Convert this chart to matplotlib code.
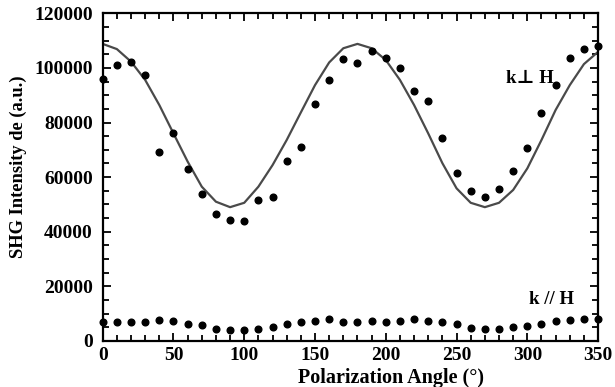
import matplotlib
matplotlib.use("Agg")
import matplotlib.pyplot as plt
from matplotlib.ticker import MultipleLocator

plt.rcParams['font.family'] = ['Liberation Serif', 'DejaVu Serif']
plt.rcParams['font.weight'] = 'bold'

# Polarization angle (degrees)
angles = list(range(0, 360, 10))

# Measured SHG intensity, k perpendicular to H
perp_measured = [96000, 101100, 102000, 97400, 69100, 76200, 63100, 53700, 46400, 44400,
                 43800, 51800, 52900, 65900, 71100, 86900, 95600, 103400, 101900, 106200,
                 103500, 100000, 91700, 88000, 74200, 61400, 54900, 52800, 55700, 62200,
                 70700, 83400, 93600, 103500, 107000, 107900]

# Fitted curve, k perpendicular to H
perp_fit = [108800, 106900, 102300, 95600, 86400, 76000, 65700, 56500, 51000, 49000,
            50600, 56500, 64400, 73600, 83700, 93700, 102000, 107200, 108800, 107200,
            102900, 95600, 86400, 76000, 65100, 55900, 50600, 49000, 50600, 55300,
            63200, 73600, 84600, 93700, 101400, 105900]

# Measured SHG intensity, k parallel to H
para_measured = [6800, 7100, 7100, 6800, 7700, 7400, 6300, 5700, 4400, 3900,
                 3900, 4400, 5200, 6200, 6800, 7400, 7900, 7100, 7100, 7400,
                 6800, 7400, 8100, 7300, 6800, 6100, 4800, 4300, 4300, 5000,
                 5600, 6200, 7400, 7700, 8200, 7900]

fig = plt.figure(figsize=(6.15, 3.87), dpi=100)
ax = fig.add_axes([0.167, 0.119, 0.8055, 0.8466])

ax.plot(angles, perp_fit, color='#4a4a4a', lw=1.6, zorder=2)
ax.plot(angles, perp_measured, 'o', color='black', ms=4.8, clip_on=False, zorder=3)
ax.plot(angles, para_measured, 'o', color='black', ms=4.8, clip_on=False, zorder=3)

ax.set_xlim(0, 350)
ax.set_ylim(0, 120000)

ax.xaxis.set_major_locator(MultipleLocator(50))
ax.xaxis.set_minor_locator(MultipleLocator(10))
ax.yaxis.set_major_locator(MultipleLocator(20000))
ax.yaxis.set_minor_locator(MultipleLocator(5000))

ax.tick_params(which='both', direction='in', top=True, right=True, width=1.3, colors='black')
ax.tick_params(which='major', length=5.5)
ax.tick_params(which='minor', length=4)
ax.tick_params(axis='x', which='major', pad=4, labelsize=14)
ax.tick_params(axis='y', which='major', pad=7, labelsize=14)

for s in ax.spines.values():
    s.set_linewidth(1.6)
    s.set_color('black')

ax.set_xlabel('Polarization Angle (°)', fontsize=14.5, fontweight='bold')
ax.xaxis.set_label_coords(0.582, -0.082)
ax.set_ylabel('SHG Intensity de (a.u.)', fontsize=13.3, fontweight='bold')
ax.yaxis.set_label_coords(-0.153, 0.531)

ax.text(302, 96300, 'k\u22a5 H', fontsize=13.5, fontweight='bold', ha='center', va='center')
ax.text(317, 15000, 'k // H', fontsize=13.5, fontweight='bold', ha='center', va='center')

fig.savefig('out.png', dpi=100)
